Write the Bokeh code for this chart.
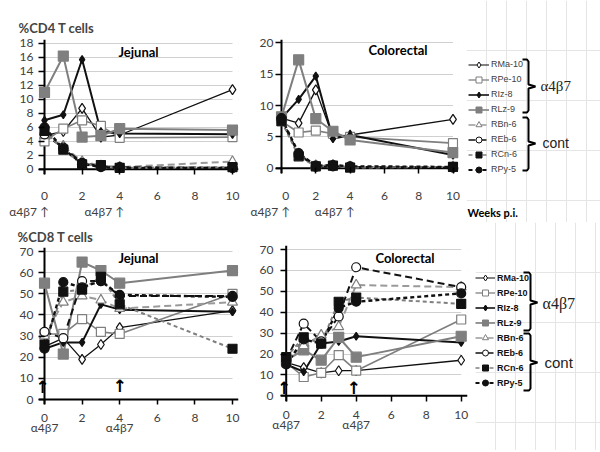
import math
from bokeh.plotting import figure
from bokeh.models import (ColumnDataSource, Label, Range1d, FixedTicker, Legend, LegendItem,
                          Span, BoxAnnotation)
from bokeh.embed import file_html
from bokeh.resources import INLINE

# ---------------- data ----------------
weeks = [0, 1, 2, 3, 4, 10]
animals = ["RMa-10", "RPe-10", "RIz-8", "RLz-9", "RBn-6", "REb-6", "RCn-6", "RPy-5"]
group_names = ["\u03b14\u03b27", "cont"]
x_ticks = [0, 2, 4, 6, 8, 10]
infusion_weeks = [0, 4]

cd4_jejunal = {
    "RMa-10": [4.8, 5.4, 8.7, 4.6, 4.9, 11.4],
    "RPe-10": [4.0, 5.8, 7.0, 6.2, 4.5, 4.6],
    "RIz-8": [7.0, 7.8, 15.7, 5.4, 5.1, 5.0],
    "RLz-9": [11.0, 16.2, 4.6, 4.8, 5.8, 5.6],
    "RBn-6": [4.8, 3.3, 1.1, 0.5, 0.3, 1.1],
    "REb-6": [5.0, 3.1, 0.9, 0.4, 0.3, 0.2],
    "RCn-6": [5.5, 2.8, 0.7, 0.6, 0.2, 0.3],
    "RPy-5": [6.0, 2.9, 0.8, 0.3, 0.2, 0.2],
}
cd4_colorectal = {
    "RMa-10": [8.0, 7.2, 12.5, 5.0, 5.3, 7.8],
    "RPe-10": [7.5, 5.7, 6.0, 5.5, 5.0, 4.0],
    "RIz-8": [8.0, 11.0, 14.7, 4.7, 5.3, 2.1],
    "RLz-9": [8.2, 17.3, 7.9, 5.9, 4.5, 2.5],
    "RBn-6": [7.6, 2.3, 0.4, 0.5, 0.2, 0.2],
    "REb-6": [7.8, 2.2, 0.2, 0.3, 0.2, 0.1],
    "RCn-6": [7.5, 1.9, 0.3, 0.4, 0.1, 0.2],
    "RPy-5": [8.0, 2.4, 0.4, 0.5, 0.3, 0.2],
}
cd8_jejunal = {
    "RMa-10": [25, 29, 19, 26, 34, 42],
    "RPe-10": [31, 31, 38, 32, 31, 50],
    "RIz-8": [24, 27, 27, 45, 42.5, 41.5],
    "RLz-9": [55, 21.5, 65, 61, 55, 61],
    "RBn-6": [30, 46, 49, 47, 43, 46],
    "REb-6": [32, 29, 56, 56, 49, 49],
    "RCn-6": [26, 51, 52, 58, 45, 24],
    "RPy-5": [24, 55.5, 53, 56, 49.5, 48.5],
}
cd8_colorectal = {
    "RMa-10": [16, 13.5, 11, 12, 12, 17],
    "RPe-10": [16, 9, 11, 19.5, 12, 36.5],
    "RIz-8": [15, 11.5, 25, 26, 28.5, 25.5],
    "RLz-9": [17, 22, 17, 28, 18.5, 28.5],
    "RBn-6": [17, 24, 29, 33, 53, 52],
    "REb-6": [17, 34.5, 26, 38, 61.5, 52],
    "RCn-6": [18.5, 28, 25, 45, 47, 44],
    "RPy-5": [15, 27, 25, 42, 45, 49],
}

# ---------------- styles ----------------
BLACK = "#111111"
GRAY = "#7f7f7f"
LGRAY = "#9a9a9a"
STYLE = {
    "RMa-10": dict(lc=BLACK, lw=1.3, dash="solid", marker="diamond", size=10, fill="white", mlc=BLACK),
    "RPe-10": dict(lc=GRAY, lw=1.6, dash="solid", marker="square", size=9, fill="white", mlc=GRAY),
    "RIz-8": dict(lc=BLACK, lw=2.0, dash="solid", marker="diamond", size=8, fill=BLACK, mlc=BLACK),
    "RLz-9": dict(lc=GRAY, lw=2.0, dash="solid", marker="square", size=10, fill=GRAY, mlc=GRAY),
    "RBn-6": dict(lc=LGRAY, lw=2.0, dash="7 4", marker="triangle", size=10, fill="white", mlc=GRAY),
    "REb-6": dict(lc=BLACK, lw=2.0, dash="7 4", marker="circle", size=9, fill="white", mlc=BLACK),
    "RCn-6": dict(lc=GRAY, lw=2.0, dash="4 3", marker="square", size=9, fill=BLACK, mlc=BLACK),
    "RPy-5": dict(lc=BLACK, lw=2.4, dash="4 3", marker="circle", size=9, fill=BLACK, mlc=BLACK),
}

TICK_FONT = "Lato"
SERIF = "Liberation Serif"
NB = "\u00a0"
ARROW = "\u2191"


def place(left, top):
    return {"position": "absolute", "left": f"{left}px", "top": f"{top}px"}


def make_panel(data, box, geom, ymax, ystep, title, title_x, title_standoff,
               num_standoff, ylab_standoff, inf_label, line_h):
    left, top, w, h = box
    x0, x10, y0, ytop = geom
    sx = (x10 - x0) / 10.0
    sy = (y0 - ytop) / ymax
    fl = round(x0 - 6)
    fr = round(x10 + 6)
    ft = round(ytop - 4)
    fb = round(y0 + 5.5)
    xr = Range1d((fl - x0) / sx, (fr - x0) / sx)
    yr = Range1d((y0 - fb) / sy, (y0 - ft) / sy)
    p = figure(width=w, height=h, x_range=xr, y_range=yr, output_backend="svg",
               toolbar_location=None, min_border_left=fl - left,
               min_border_right=left + w - fr, min_border_top=ft - top,
               min_border_bottom=top + h - fb, styles=place(left, top))
    p.outline_line_color = None
    p.background_fill_color = "white"
    p.border_fill_color = "white"

    p.title.text = title
    p.title.align = "left"
    p.title.offset = title_x - fl
    p.title.standoff = title_standoff
    p.title.text_font = "Lato"
    p.title.text_font_size = "13px"
    p.title.text_font_style = "bold"

    yt = list(range(0, ymax + 1, ystep))
    p.xaxis.ticker = FixedTicker(ticks=x_ticks)
    p.yaxis.ticker = FixedTicker(ticks=yt)
    p.ygrid.ticker = FixedTicker(ticks=yt)
    p.xgrid.visible = False
    p.ygrid.grid_line_color = "#d0d0d0"
    p.ygrid.grid_line_width = 1
    p.axis.axis_line_color = None
    p.axis.minor_tick_line_color = None
    p.axis.major_tick_line_color = "black"
    p.axis.major_tick_line_width = 1.5
    p.axis.major_tick_out = 0
    p.xaxis.major_tick_in = round(fb - y0)
    p.yaxis.major_tick_in = round(x0 - fl)
    p.xaxis.major_label_standoff = num_standoff
    p.yaxis.major_label_standoff = ylab_standoff
    p.axis.major_label_text_font = TICK_FONT
    p.axis.major_label_text_font_size = "12px"
    p.axis.major_label_text_color = "#404040"
    # week numbers, with the infusion marker written under weeks 0 and 4
    p.xaxis.major_label_overrides = {wk: f"{wk}\n{inf_label}" for wk in infusion_weeks}
    p.xaxis.major_label_text_line_height = line_h

    # hide grid beyond the axis extent, then draw axis lines at 0
    p.add_layout(BoxAnnotation(right=0, fill_color="white", fill_alpha=1, line_alpha=0,
                               level="underlay"))
    p.add_layout(BoxAnnotation(left=10, fill_color="white", fill_alpha=1, line_alpha=0,
                               level="underlay"))
    p.add_layout(Span(location=0, dimension="width", line_color="black", line_width=2,
                      level="underlay"))
    p.add_layout(Span(location=0, dimension="height", line_color="black", line_width=2,
                      level="underlay"))

    src = ColumnDataSource(dict(week=weeks, **{a: data[a] for a in animals}))
    for a in animals:
        st = STYLE[a]
        p.line(x="week", y=a, source=src, line_color=st["lc"], line_width=st["lw"],
               line_dash=st["dash"])
    for a in animals:
        st = STYLE[a]
        p.scatter(x="week", y=a, source=src, marker=st["marker"], size=st["size"],
                  fill_color=st["fill"], line_color=st["mlc"], line_width=1.2)

    def label(px, py, text, font="Lato", size="13px", style="normal", align="left"):
        p.add_layout(Label(x=(px - x0) / sx, y=(y0 - py) / sy, text=text, text_font=font,
                           text_font_size=size, text_font_style=style, text_align=align,
                           text_baseline="middle", text_color="black"))
    return p, label


def make_legend(box, first_center, glyph_left, glyph_w, bold, braces, texts, extra=None):
    left, top, w, h = box
    p = figure(width=w, height=h, x_range=Range1d(0, w), y_range=Range1d(h, 0),
               output_backend="svg", toolbar_location=None, min_border=0, title=None,
               x_axis_location=None, y_axis_location=None, styles=place(left, top))
    p.outline_line_color = None
    p.background_fill_color = "white"
    p.border_fill_color = "white"
    hidden = ColumnDataSource(dict(x=weeks, y=[math.nan] * len(weeks)))
    items = []
    for a in animals:
        st = STYLE[a]
        r1 = p.line(x="x", y="y", source=hidden, line_color=st["lc"],
                    line_width=st["lw"] * 0.8, line_dash=st["dash"])
        r2 = p.scatter(x="x", y="y", source=hidden, marker=st["marker"],
                       size=st["size"] * 0.7, fill_color=st["fill"], line_color=st["mlc"],
                       line_width=1)
        items.append(LegendItem(label=a, renderers=[r1, r2]))
    row_h = 15
    legend_bottom = (first_center - row_h / 2.0 + row_h * len(animals)) - top
    legend = Legend(items=items, location=(glyph_left - left, h - legend_bottom),
                    glyph_width=glyph_w, glyph_height=row_h, label_height=row_h, spacing=0,
                    padding=0, margin=0, label_standoff=2, border_line_color=None,
                    background_fill_alpha=0, label_text_font="Liberation Sans",
                    label_text_font_size="9px",
                    label_text_color="#111111" if bold else "#404040",
                    label_text_font_style="bold" if bold else "normal")
    p.add_layout(legend)
    for (bx0, bx1, bx2, t, m, b) in braces:
        xs = [bx0, bx1 - 1.5, bx1, bx1, bx2, bx1, bx1, bx1 - 1.5, bx0]
        ys = [t, t, t + 2, m - 2, m, m + 2, b - 2, b, b]
        p.line([x - left for x in xs], [y - top for y in ys], line_color="black",
               line_width=2)
    for (px, py, text, font, size) in texts:
        p.add_layout(Label(x=px - left, y=py - top, text=text, text_font=font,
                           text_font_size=size, text_align="left", text_baseline="middle",
                           text_color="#222222"))
    if extra:
        px, py, text = extra
        p.add_layout(Label(x=px - left, y=py - top, text=text, text_font="Lato",
                           text_font_size="11px", text_font_style="bold", text_align="left",
                           text_baseline="middle", text_color="black"))
    return p


top_inf = group_names[0] + NB + ARROW + NB * 10

# ---- top-left: CD4 jejunal ----
pA, lA = make_panel(cd4_jejunal, (0, 0, 250, 222), (44, 232, 179.3, 43.3), 18, 2,
                    "%CD4 T cells", 18, 8, 13, 5, top_inf, 1.1)
lA(138, 53, "Jejunal", style="bold", align="center")

# ---- top-right: CD4 colorectal ----
pB, lB = make_panel(cd4_colorectal, (250, 0, 216, 222), (281, 452.5, 177.3, 42.7), 20, 5,
                    "", 281, 8, 14, 2, top_inf, 1.1)
lB(397.5, 50, "Colorectal", style="bold", align="center")

legA = make_legend((466, 0, 134, 222), 64.3, 468, 21, False,
                   [(522, 528, 535, 59, 86, 112), (522, 528, 535, 117, 143, 170)],
                   [(540, 85, group_names[0], SERIF, "15px"),
                    (542, 142, group_names[1], "Liberation Sans", "14px")],
                   extra=(467, 212, "Weeks p.i."))

# ---- bottom-left: CD8 jejunal ----
pC, lC = make_panel(cd8_jejunal, (0, 222, 250, 228), (44, 232, 399, 251), 70, 10,
                    "%CD8 T cells", 17, 5, 5, 5, group_names[0], 0.69)
lC(138, 257, "Jejunal", style="bold", align="center")
lC(42, 386, ARROW, font="DejaVu Sans", size="17px", style="bold", align="center")
lC(119.3, 385, ARROW, font="DejaVu Sans", size="17px", style="bold", align="center")

# ---- bottom-right: CD8 colorectal ----
pD, lD = make_panel(cd8_colorectal, (250, 222, 225, 228), (285.7, 460.7, 395.3, 249), 70, 10,
                    "", 285, 5, 5, 7, group_names[0], 0.69)
lD(404.5, 257, "Colorectal", style="bold", align="center")
lD(283.5, 387, ARROW, font="DejaVu Sans", size="17px", style="bold", align="center")
lD(353.3, 387, ARROW, font="DejaVu Sans", size="17px", style="bold", align="center")

legC = make_legend((475, 222, 125, 228), 277.5, 475, 20, True,
                   [(523, 530, 537, 272, 302, 330), (523, 530, 537, 333, 362, 390)],
                   [(542, 303, group_names[0], SERIF, "16px"),
                    (544, 362, group_names[1], "Liberation Sans", "15px")])

roots = [pA, pB, legA, pC, pD, legC]
open("out.html", "w").write(file_html(roots, INLINE))
